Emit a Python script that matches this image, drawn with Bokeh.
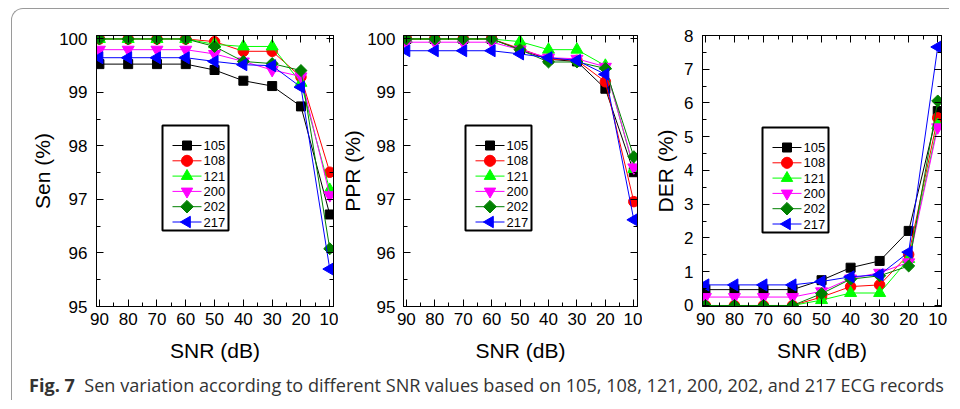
import math
from bokeh.plotting import figure
from bokeh.models import (Range1d, LinearAxis, FixedTicker, Div, BoxAnnotation,
                          PolyAnnotation, Arrow, Label, CustomLabelingPolicy)
from bokeh.layouts import row, column
from bokeh.embed import file_html
from bokeh.resources import INLINE

# ---------------- data ----------------
snr = [90, 80, 70, 60, 50, 40, 30, 20, 10]
records = ["105", "108", "121", "200", "202", "217"]

sen_105 = [99.53, 99.53, 99.53, 99.53, 99.42, 99.22, 99.12, 98.74, 96.72]
sen_108 = [100.0, 100.0, 100.0, 100.0, 99.95, 99.77, 99.77, 99.29, 97.51]
sen_121 = [100.0, 100.0, 100.0, 100.0, 99.90, 99.86, 99.86, 99.18, 97.18]
sen_200 = [99.80, 99.80, 99.80, 99.80, 99.72, 99.58, 99.42, 99.30, 97.08]
sen_202 = [100.0, 100.0, 100.0, 100.0, 99.86, 99.58, 99.54, 99.41, 96.08]
sen_217 = [99.65, 99.65, 99.65, 99.65, 99.58, 99.52, 99.50, 99.10, 95.70]

ppr_105 = [100.0, 100.0, 100.0, 100.0, 99.80, 99.62, 99.58, 99.07, 97.51]
ppr_108 = [100.0, 100.0, 100.0, 100.0, 99.82, 99.63, 99.60, 99.20, 96.96]
ppr_121 = [100.0, 100.0, 100.0, 100.0, 99.95, 99.80, 99.80, 99.50, 97.57]
ppr_200 = [99.94, 99.94, 99.94, 99.94, 99.80, 99.65, 99.63, 99.48, 97.60]
ppr_202 = [100.0, 100.0, 100.0, 100.0, 99.80, 99.57, 99.57, 99.45, 97.80]
ppr_217 = [99.78, 99.78, 99.78, 99.78, 99.72, 99.65, 99.60, 99.34, 96.62]

der_105 = [0.47, 0.47, 0.47, 0.47, 0.75, 1.12, 1.32, 2.21, 5.76]
der_108 = [0.0, 0.0, 0.0, 0.0, 0.25, 0.56, 0.61, 1.51, 5.56]
der_121 = [0.0, 0.0, 0.0, 0.0, 0.16, 0.37, 0.37, 1.38, 5.35]
der_200 = [0.25, 0.25, 0.25, 0.25, 0.42, 0.80, 0.97, 1.28, 5.28]
der_202 = [0.0, 0.0, 0.0, 0.0, 0.35, 0.78, 0.88, 1.17, 6.06]
der_217 = [0.61, 0.61, 0.61, 0.61, 0.71, 0.85, 0.91, 1.58, 7.66]

x_ticks = [90, 80, 70, 60, 50, 40, 30, 20, 10]
x_minor = [85, 75, 65, 55, 45, 35, 25, 15]
pct_ticks = [95, 96, 97, 98, 99, 100]
pct_minor = [95.5, 96.5, 97.5, 98.5, 99.5]
der_ticks = [0, 1, 2, 3, 4, 5, 6, 7, 8]
der_minor = [0.5, 1.5, 2.5, 3.5, 4.5, 5.5, 6.5, 7.5]

caption_bold = "Fig. 7"
caption_text = ("Sen variation according to different SNR values based on 105, 108, "
                "121, 200, 202, and 217 ECG records")

# ---------------- styles ----------------
colors = ["#000000", "#ff0000", "#00ff00", "#ff00ff", "#008000", "#0000ff"]
markers = ["square", "circle", "triangle", "inverted_triangle", "square", "triangle"]
angles = [0, 0, 0, 0, math.pi / 4, math.pi / 2]
sizes = [9, 10.5, 12, 12, 8.5, 12]
shape_names = ["square", "circle", "up", "down", "diamond", "left"]

FONT = "Liberation Sans"
FIG_H = 346
TOP = 15

hide_all = CustomLabelingPolicy(code="""
const all = Array.from(indices)
for (const i of all) { indices.unset(i) }
return indices
""")


def style_axis(ax, labels=True):
    ax.axis_line_color = "black"
    ax.axis_line_width = 1
    ax.major_tick_in = 7
    ax.major_tick_out = 0
    ax.minor_tick_in = 4
    ax.minor_tick_out = 0
    ax.major_tick_line_color = "black"
    ax.minor_tick_line_color = "black"
    if labels:
        ax.major_label_text_font = FONT
        ax.major_label_text_font_size = "17px"
        ax.major_label_text_color = "black"
        ax.axis_label_text_font = FONT
        ax.axis_label_text_font_size = "21px"
        ax.axis_label_text_font_style = "normal"
        ax.axis_label_text_color = "black"
    else:
        ax.major_label_text_font_size = "1px"
        ax.major_label_standoff = 0
        ax.major_label_policy = hide_all
        ax.axis_label = None


def shape_poly(kind, cx, cy):
    """Vertices (screen px, y up) of a legend marker centred on (cx, cy)."""
    if kind == "square":
        h = 4.5
        pts = [(-h, -h), (h, -h), (h, h), (-h, h)]
    elif kind == "circle":
        r = 5.5
        pts = [(r * math.cos(2 * math.pi * k / 28), r * math.sin(2 * math.pi * k / 28))
               for k in range(28)]
    elif kind == "diamond":
        r = 6.3
        pts = [(0, r), (r, 0), (0, -r), (-r, 0)]
    else:
        r = 6.6
        base = {"up": math.pi / 2, "down": -math.pi / 2, "left": math.pi}[kind]
        pts = [(r * math.cos(base + 2 * math.pi * k / 3), r * math.sin(base + 2 * math.pi * k / 3))
               for k in range(3)]
    return [cx + a for a, _ in pts], [cy + b for _, b in pts]


def add_legend(p, lx, ly):
    w, h = 66, 105
    p.add_layout(BoxAnnotation(left=lx, right=lx + w, bottom=ly, top=ly + h,
                               left_units="screen", right_units="screen",
                               top_units="screen", bottom_units="screen",
                               fill_color="white", fill_alpha=1.0,
                               line_color="black", line_width=2, line_alpha=1.0))
    for i, rec in enumerate(records):
        cy = ly + h - 20 - i * 15.3
        p.add_layout(Arrow(x_start=lx + 10, y_start=cy, x_end=lx + 39, y_end=cy,
                           start_units="screen", end_units="screen", end=None,
                           line_color=colors[i], line_width=1))
        xs, ys = shape_poly(shape_names[i], lx + 24.5, cy)
        p.add_layout(PolyAnnotation(xs=xs, ys=ys, xs_units="screen", ys_units="screen",
                                    fill_color=colors[i], fill_alpha=1.0,
                                    line_color=colors[i], line_width=1, line_alpha=1.0))
        p.add_layout(Label(x=lx + 41, y=cy, x_units="screen", y_units="screen",
                           text=rec, text_baseline="middle", text_align="left",
                           text_font=FONT, text_font_size="13px", text_color="black"))


def make_panel(ylabel, series, yr, yt, ym, width, left, right, legend_xy,
               ylab_standoff, ytick_standoff):
    p = figure(width=width, height=FIG_H, output_backend="svg", toolbar_location=None,
               x_range=Range1d(91.0, 8.7), y_range=Range1d(*yr),
               min_border_left=left, min_border_right=right,
               min_border_top=TOP, min_border_bottom=60)
    p.grid.visible = False
    p.outline_line_color = "black"
    p.background_fill_color = "white"
    p.border_fill_color = "white"

    p.xaxis.ticker = FixedTicker(ticks=x_ticks, minor_ticks=x_minor)
    p.yaxis.ticker = FixedTicker(ticks=yt, minor_ticks=ym)
    p.xaxis.axis_label = "SNR (dB)"
    p.yaxis.axis_label = ylabel
    for ax in p.xaxis:
        style_axis(ax)
        ax.major_label_standoff = 6
        ax.axis_label_standoff = 11
    for ax in p.yaxis:
        style_axis(ax)
        ax.major_label_standoff = ytick_standoff
        ax.axis_label_standoff = ylab_standoff

    top = LinearAxis(ticker=FixedTicker(ticks=x_ticks, minor_ticks=x_minor))
    rgt = LinearAxis(ticker=FixedTicker(ticks=yt, minor_ticks=ym))
    style_axis(top, labels=False)
    style_axis(rgt, labels=False)
    p.add_layout(top, "above")
    p.add_layout(rgt, "right")

    for i, ys in enumerate(series):
        p.line(snr, ys, line_color=colors[i], line_width=1)
        p.scatter(snr, ys, marker=markers[i], size=sizes[i], angle=angles[i],
                  fill_color=colors[i], line_color=colors[i])

    add_legend(p, *legend_xy)
    return p


p1 = make_panel("Sen (%)", [sen_105, sen_108, sen_121, sen_200, sen_202, sen_217],
                (95.0, 100.065), pct_ticks, pct_minor, 326, 84, 4, (66, 76), 2, 9)
p2 = make_panel("PPR (%)", [ppr_105, ppr_108, ppr_121, ppr_200, ppr_202, ppr_217],
                (95.0, 100.065), pct_ticks, pct_minor, 304, 62, 4, (62, 76), 0, 8)
p3 = make_panel("DER (%)", [der_105, der_108, der_121, der_200, der_202, der_217],
                (-0.03, 8.0), der_ticks, der_minor, 307, 60, 8, (60, 74), 4, 9)

EDGE = "1px solid #9a9a9a"
top_edge = Div(
    text=('<div style="width:938px;height:12px;box-sizing:border-box;'
          'border-top:' + EDGE + ';border-left:' + EDGE + ';'
          'border-top-left-radius:12px;"></div>'),
    width=938, height=12, margin=0)
left_edge = Div(
    text=('<div style="width:1px;height:' + str(FIG_H) + 'px;box-sizing:border-box;'
          'border-left:' + EDGE + ';"></div>'),
    width=1, height=FIG_H, margin=0)

caption = Div(
    text=('<div style="font-family: \'Open Sans\', sans-serif; font-size: 18.1px; '
          'color: #333333; white-space: nowrap; padding: 8px 0 0 17px; line-height: 22px; '
          'height: 34px; box-sizing: border-box; border-left:' + EDGE + ';">'
          '<b>' + caption_bold + '</b>&nbsp;&nbsp;' + caption_text + '</div>'),
    width=938, height=34, margin=0)

layout = column(top_edge, row(left_edge, p1, p2, p3, spacing=0), caption, spacing=0,
                margin=(8, 0, 0, 11))

with open("out.html", "w") as f:
    f.write(file_html(layout, INLINE))
